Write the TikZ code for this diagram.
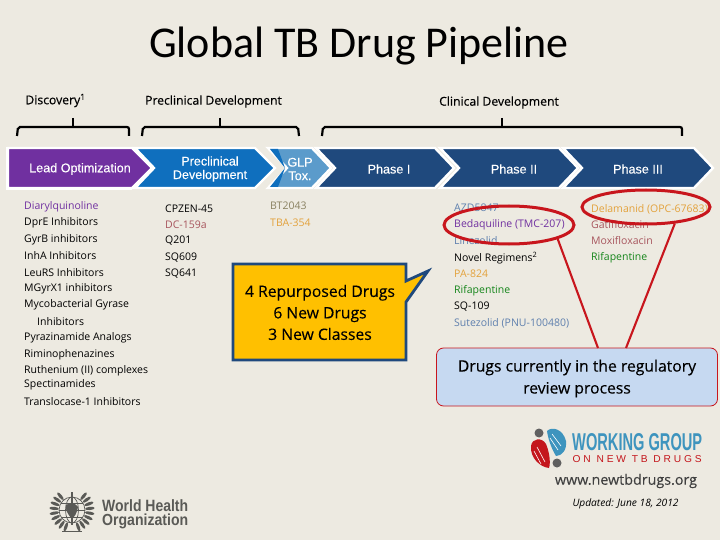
\documentclass[tikz,border=0pt]{standalone}
\usepackage{fontspec}
\setmainfont{Open Sans}
\newfontfamily\calf{Carlito}
\newfontfamily\ari[FakeBold=0.25]{Liberation Sans}
\newfontfamily\arp{Liberation Sans}
\newfontfamily\hdf[FakeBold=0.35]{Open Sans}
\newfontfamily\mdf[FakeBold=0.15]{Open Sans}
\usetikzlibrary{shapes.geometric}
\definecolor{bgc}{HTML}{EDEAE1}
\definecolor{purp}{HTML}{7030A0}
\definecolor{midb}{HTML}{0F6FBE}
\definecolor{litb}{HTML}{5B9BCB}
\definecolor{navy}{HTML}{1F497D}
\definecolor{slate}{HTML}{5F80AE}
\definecolor{oran}{HTML}{E3A23C}
\definecolor{gren}{HTML}{15851A}
\definecolor{brwn}{HTML}{A8565E}
\definecolor{olv}{HTML}{8A8262}
\definecolor{redl}{HTML}{C8161D}
\definecolor{boxb}{HTML}{C6D9F1}
\definecolor{gold}{HTML}{FFC000}
\definecolor{wgb}{HTML}{3E94BE}
\definecolor{wgr}{HTML}{C4161C}
\definecolor{whog}{HTML}{5A5A56}
\tikzset{
 x=1pt,y=-1pt,
 chev/.style={draw=white,line width=2.4pt,line join=miter},
 brk/.style={draw=black,line width=2.2pt,rounded corners=2pt},
 tck/.style={draw=black,line width=2.2pt},
 lst/.style={anchor=west,inner sep=0pt,yshift=-1pt,font=\fontsize{10.5}{12}\selectfont,text=black},
 chl/.style={inner sep=0pt,align=center,text=white,font=\fontsize{12.6}{13.5}\selectfont\ari},
 hdl/.style={inner sep=0pt,font=\fontsize{12.2}{14}\selectfont\hdf},
 ring/.style={draw=redl,line width=3pt,ellipse,inner sep=0pt},
 lnk/.style={draw=redl,line width=2.1pt},
}
\begin{document}
\begin{tikzpicture}
\useasboundingbox (0,0) rectangle (720,540);
\fill[bgc] (0,0) rectangle (720,540);
\node[inner sep=0pt,font=\fontsize{44}{46}\selectfont\calf] (title) at (359,46) {Global TB Drug Pipeline};

% headers
\node[hdl] (hdisc) at (55.5,100.5) {Discovery\textsuperscript{1}};
\node[hdl] (hpre) at (213.5,101.5) {Preclinical Development};
\node[hdl] (hcli) at (499,102.5) {Clinical Development};

% brackets
\draw[brk] (17,136) -- (18,127) -- (129,127) -- (129,136);
\draw[tck] (73,118) -- (73,127);
\draw[brk] (142,136) -- (143,127) -- (298,127) -- (299,136);
\draw[tck] (220,118) -- (220,127);
\draw[brk] (322,136) -- (323,127) -- (682,127) -- (682,136);
\draw[tck] (502,118) -- (502,127);

% chevrons
\fill[white] (6,147) rectangle (132,190);
\draw[chev,fill=navy] (563,148) -- (694,148) -- (713,168) -- (694,188) -- (563,188) -- (582,168) -- cycle;
\draw[chev,fill=navy] (440,148) -- (559,148) -- (578,168) -- (559,188) -- (440,188) -- (459,168) -- cycle;
\draw[chev,fill=navy] (316,148) -- (435,148) -- (454,168) -- (435,188) -- (316,188) -- (335,168) -- cycle;
\draw[chev,fill=litb] (268,148) -- (312,148) -- (331,168) -- (312,188) -- (268,188) -- (287,168) -- cycle;
\fill[midb] (270,149) -- (278,149) -- (285,168) -- (278,187) -- (270,187) -- (285,168) -- cycle;
\draw[chev,fill=midb] (135,148) -- (255,148) -- (275,168) -- (255,188) -- (135,188) -- (154,168) -- cycle;
\draw[chev,fill=purp] (8,148) -- (132,148) -- (152,168) -- (132,188) -- (8,188) -- cycle;

\node[chl] (lead) at (80,169) {Lead Optimization};
\node[chl] (prec) at (210,169) {Preclinical\\Development};
\node[chl] (glp) at (300,169) {GLP\\Tox.};
\node[chl] (ph1) at (389,169) {Phase I};
\node[chl] (ph2) at (514,169) {Phase II};
\node[chl] (ph3) at (638,169) {Phase III};

% discovery list
\node[lst,text=purp] (d1) at (24,205.5) {Diarylquinoline};
\node[lst] (d2) at (24,222) {DprE Inhibitors};
\node[lst] (d3) at (24,239) {GyrB inhibitors};
\node[lst] (d4) at (24,255) {InhA Inhibitors};
\node[lst] (d5) at (24,272) {LeuRS Inhibitors};
\node[lst] (d6) at (24,288) {MGyrX1 inhibitors};
\node[lst] (d7) at (24,304) {Mycobacterial Gyrase};
\node[lst] (d8) at (37,321) {Inhibitors};
\node[lst] (d9) at (24,337) {Pyrazinamide Analogs};
\node[lst] (d10) at (24,354) {Riminophenazines};
\node[lst] (d11) at (24,370) {Ruthenium (II) complexes};
\node[lst] (d12) at (24,384) {Spectinamides};
\node[lst] (d13) at (24,401) {Translocase-1 Inhibitors};

% preclinical list
\node[lst] (p1) at (165,208) {CPZEN-45};
\node[lst,text=brwn] (p2) at (165,224) {DC-159a};
\node[lst] (p3) at (165,240) {Q201};
\node[lst] (p4) at (165,257) {SQ609};
\node[lst] (p5) at (165,273) {SQ641};

% GLP list
\node[lst,text=olv] (g1) at (270,205) {BT2043};
\node[lst,text=oran] (g2) at (270,222) {TBA-354};

% phase II
\node[lst,text=slate] (a1) at (454,207) {AZD5847};
\node[lst,text=purp] (a2) at (454,224) {Bedaquiline (TMC-207)};
\node[lst,text=slate] (a3) at (454,240) {Linezolid};
\node[lst] (a4) at (454,257) {Novel Regimens\textsuperscript{2}};
\node[lst,text=oran] (a5) at (454,273) {PA-824};
\node[lst,text=gren] (a6) at (454,290) {Rifapentine};
\node[lst] (a7) at (454,306) {SQ-109};
\node[lst,text=slate] (a8) at (454,322) {Sutezolid (PNU-100480)};

% phase III
\node[lst,text=oran] (b1) at (591,208) {Delamanid (OPC-67683)};
\node[lst,text=brwn] (b2) at (591,224) {Gatifloxacin};
\node[lst,text=brwn] (b3) at (591,240) {Moxifloxacin};
\node[lst,text=gren] (b4) at (591,257) {Rifapentine};

% callout
\draw[draw=navy,fill=gold,line width=2.8pt,line join=miter] (233,264) -- (406,264) -- (406,281) -- (428,271) -- (406,302) -- (406,360) -- (233,360) -- cycle;
\node[inner sep=0pt,align=center,font=\fontsize{15.7}{21.5}\selectfont\mdf] (call) at (320,312.5) {4 Repurposed Drugs\\6 New Drugs\\3 New Classes};

% regulatory box + rings
\node[draw=redl,fill=boxb,line width=0.8pt,rounded corners=7pt,minimum width=281pt,minimum height=58pt,inner sep=0pt] (reg) at (577,377) {};
\node[inner sep=0pt,align=center,font=\fontsize{15.7}{22}\selectfont\mdf] (regt) at (577,378.5) {Drugs currently in the regulatory\\review process};
\node[ring,minimum width=130pt,minimum height=38pt] (ring1) at (509,225) {};
\node[ring,minimum width=128pt,minimum height=34pt] (ring2) at (646,207) {};
\coordinate (r1) at (598,348);
\coordinate (r2) at (626,348);
\draw[lnk] (ring1.-16) -- (r1);
\draw[lnk] (ring2.-30) -- (r2);

% working group logo
\fill[gray!75!black] (539,433) circle (4.5);
\fill[gray!75!black] (557,463) circle (4.5);
\fill[wgb] (547,431) .. controls (552,426) and (563,429) .. (566,441) .. controls (567,450) and (562,456) .. (556,456) .. controls (551,448) and (548,438) .. (547,431) -- cycle;
\fill[wgr] (531,446) .. controls (532,438) and (542,437) .. (546,444) .. controls (549,451) and (551,462) .. (549,468) .. controls (540,467) and (530,458) .. (531,446) -- cycle;
\draw[white,line width=.6pt] (552,434) -- (561,446) (550,438) -- (558,450) (537,447) -- (545,462) (534,451) -- (541,464);
\node[inner sep=0pt,anchor=west,text=wgb] (wg1) at (572,442) {\resizebox{130pt}{17pt}{\arp\bfseries WORKING GROUP}};
\node[inner sep=0pt,anchor=west,text=wgr] (wg2) at (572.5,459.5) {\resizebox{129pt}{7pt}{\arp O N\ \ N E W\ \ T B\ \ D R U G S}};
\node[inner sep=0pt,text=black!75,font=\fontsize{14.3}{16}\selectfont\mdf] (web) at (626,481) {www.newtbdrugs.org};
\node[inner sep=0pt,font=\fontsize{10.2}{12}\selectfont\itshape] (upd) at (625.5,503.5) {Updated: June 18, 2012};

% WHO emblem
\begin{scope}[draw=whog,line width=.7pt]
\draw (72,510) circle (13);
\draw (72,510) ellipse (6.5 and 13);
\draw (59,510) -- (85,510) (61,503) -- (83,503) (61,517) -- (83,517);
\fill[whog] (66,505) .. controls (70,502) and (76,503) .. (78,507) .. controls (77,513) and (74,519) .. (71,518) .. controls (68,514) and (65,510) .. (66,505) -- cycle;
\draw[line width=1.3pt] (72,492) -- (72,525);
\foreach \a in {-70,-55,...,50}{
  \fill[whog,rotate around={\a:(72,510)}] (90,510) ellipse (4.8 and 1.6);
  \fill[whog,rotate around={180-\a:(72,510)}] (90,510) ellipse (4.8 and 1.6);
}
\draw[line width=1pt] (62,531) -- (82,531);
\end{scope}
\node[inner sep=0pt,anchor=west,text=whog] (who1) at (102,505.5) {\resizebox*{86pt}{12pt}{\arp\bfseries World Health}};
\node[inner sep=0pt,anchor=west,text=whog] (who2) at (102,521) {\resizebox*{86pt}{15pt}{\arp\bfseries Organization}};
\end{tikzpicture}
\end{document}
